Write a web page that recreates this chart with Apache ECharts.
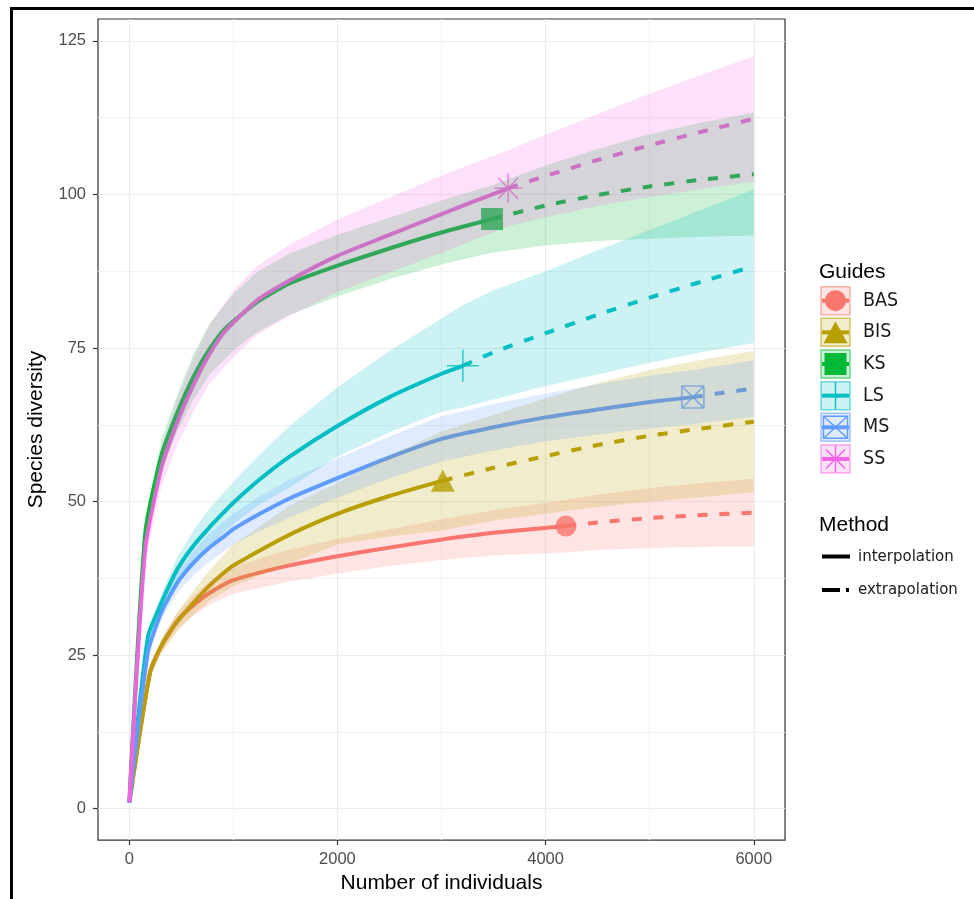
<!DOCTYPE html>
<html><head><meta charset="utf-8">
<script src="https://cdn.jsdelivr.net/npm/echarts@6/dist/echarts.min.js"></script>
<style>html,body{margin:0;padding:0;background:#fff}#c{width:974px;height:899px}</style>
</head><body><div id="c"></div>
<script>
const guides = ['BAS','BIS','KS','LS','MS','SS'];
const colors = ['#F8766D','#B79F00','#00BA38','#00BFC4','#619CFF','#F564E3'];
const xTicks = [0,2000,4000,6000];
const yTicks = [0,25,50,75,100,125];
const xMinor = [1000,3000,5000];
const yMinor = [12.5,37.5,62.5,87.5,112.5];
const methodLabels = ['interpolation','extrapolation'];

// BAS
const basX = [1,200,309,463,617,771,1000,1540,2000,2500,3000,3500,4196];
const basY = [1,22.2,26.5,30.6,33.1,35.1,37.2,39.6,41.1,42.5,43.8,44.9,46.0];
const basExtX = [4196,4500,5000,5500,6000];
const basExtY = [46.0,46.6,47.3,47.8,48.2];
const basBandX = [1,200,309,463,617,771,1000,1540,2000,2500,3000,3500,4196,4500,5000,5500,6000];
const basLo = [1,21.5,25.5,29.3,31.5,33.2,35.0,37.0,38.3,39.5,40.5,41.2,41.7,42.1,42.4,42.6,42.7];
const basHi = [1,22.9,27.5,31.9,34.7,37.0,39.4,42.2,43.9,45.5,47.1,48.6,50.3,51.1,52.2,53.0,53.7];
// BIS
const bisX = [1,200,309,463,617,771,924,1000,1540,2000,2500,3013];
const bisY = [1,22.2,26.5,30.5,33.5,36.3,38.6,39.6,44.6,48.0,50.9,53.4];
const bisExtX = [3013,3500,4000,4500,5000,5500,6000];
const bisExtY = [53.4,55.5,57.4,59.2,60.7,61.9,63.0];
const bisBandX = [1,200,309,463,617,771,1000,1540,2000,2500,3013,3500,4000,4500,5000,5500,6000];
const bisLo = [1,21.4,25.3,28.9,31.5,33.8,36.2,39.9,43.0,44.3,45.3,46.9,48.0,49.1,50.0,50.7,51.5];
const bisHi = [1,23.0,27.7,32.1,35.5,38.8,43.0,49.3,53.0,57.5,61.5,64.1,66.8,69.3,71.4,73.1,74.5];
// KS
const ksX = [1,155,309,463,617,771,924,1232,1540,2000,2500,3000,3485];
const ksY = [1,45.0,57.5,64.5,70.3,74.8,78.2,82.5,85.5,88.4,91.2,93.8,96.0];
const ksExtX = [3485,4000,4500,5000,5500,6000];
const ksExtY = [96.0,98.2,99.9,101.3,102.4,103.3];
const ksBandX = [1,155,309,463,617,771,1000,1232,1540,2000,2500,3000,3485,4000,4500,5000,5500,6000];
const ksLo = [1,43.5,55.0,61.5,66.6,70.7,74.6,77.6,80.4,83.4,86.2,88.6,90.5,91.7,92.4,92.8,93.1,93.3];
const ksHi = [1,46.5,60.0,67.5,74.0,78.9,83.8,87.4,90.4,93.4,96.2,99.0,101.5,104.7,107.4,109.8,111.7,113.3];
// LS
const lsX = [1,180,309,463,617,771,924,1000,1232,1540,2000,2500,3000,3205];
const lsY = [1,28.0,33.5,39.0,42.8,45.8,48.5,49.8,53.3,57.3,62.3,67.0,70.8,72.1];
const lsExtX = [3205,3500,4000,4500,5000,5500,6000];
const lsExtY = [72.1,74.3,77.4,80.4,83.2,85.8,88.3];
const lsBandX = [1,180,309,463,617,771,1000,1232,1540,2000,2500,3000,3205,3500,4000,4500,5000,5500,6000];
const lsLo = [1,27.2,32.0,37.0,40.3,42.9,46.3,49.3,52.3,57.3,61.3,64.6,65.3,66.6,68.8,70.7,72.6,74.3,75.8];
const lsHi = [1,28.8,35.0,41.0,45.3,48.9,53.2,57.3,62.3,68.6,74.5,79.8,82.0,84.4,87.5,90.9,94.2,97.5,100.8];
// MS
const msX = [1,180,309,463,617,771,924,1000,1232,1540,2000,2500,3000,3500,4000,4500,5000,5415];
const msY = [1,25.5,32.0,36.8,40.0,42.5,44.5,45.5,47.8,50.5,53.8,57.2,60.2,62.1,63.7,65.0,66.2,67.0];
const msExtX = [5415,5700,6000];
const msExtY = [67.0,67.7,68.4];
const msBandX = [1,180,309,463,617,771,1000,1232,1540,2000,2500,3000,3500,4000,4500,5000,5415,6000];
const msLo = [1,24.8,30.8,35.2,38.0,40.2,43.0,45.0,47.4,50.6,53.8,56.5,58.3,59.8,60.9,61.9,62.6,63.8];
const msHi = [1,26.2,33.2,38.4,42.0,44.8,48.0,50.6,53.6,57.0,60.6,63.9,65.9,67.6,69.1,70.5,71.4,73.0];
// SS
const ssX = [1,155,309,463,617,771,924,1232,1540,2000,2500,3000,3640];
const ssY = [1,42.5,55.5,63.0,69.0,74.0,77.8,82.8,86.0,90.0,93.4,96.8,101.0];
const ssExtX = [3640,4000,4500,5000,5500,6000];
const ssExtY = [101.0,103.0,105.6,108.0,110.2,112.3];
const ssBandX = [1,155,309,463,617,771,1000,1232,1540,2000,2500,3000,3640,4000,4500,5000,5500,6000];
const ssLo = [1,40.5,52.5,59.2,64.7,69.2,73.5,77.2,80.2,84.1,87.3,90.5,94.8,96.3,98.1,99.6,100.9,102.1];
const ssHi = [1,44.5,58.5,66.8,73.3,78.8,84.3,88.4,91.8,95.9,99.5,103.1,107.2,109.7,113.1,116.4,119.5,122.5];

const table = [
  [basX,basY,basExtX,basExtY,basBandX,basLo,basHi],
  [bisX,bisY,bisExtX,bisExtY,bisBandX,bisLo,bisHi],
  [ksX,ksY,ksExtX,ksExtY,ksBandX,ksLo,ksHi],
  [lsX,lsY,lsExtX,lsExtY,lsBandX,lsLo,lsHi],
  [msX,msY,msExtX,msExtY,msBandX,msLo,msHi],
  [ssX,ssY,ssExtX,ssExtY,ssBandX,ssLo,ssHi]
];

const FONT = '"Liberation Sans", Arial, Helvetica, sans-serif';
const NARROW = '"DejaVu Sans Condensed", "Liberation Sans Narrow", "DejaVu Sans", sans-serif';

function rgba(hex, a){
  const n = parseInt(hex.slice(1),16);
  return 'rgba(' + ((n>>16)&255) + ',' + ((n>>8)&255) + ',' + (n&255) + ',' + a + ')';
}
const zip = (xs, ys) => xs.map((x,k)=>[x, ys[k]]);

const PLUS = 'path://M10,0 L10,20 M0,10 L20,10';
const BOXX = 'path://M0,0 L20,0 L20,20 L0,20 Z M0,0 L20,20 M20,0 L0,20';
const STAR = 'path://M10,0 L10,20 M0,10 L20,10 M2.93,2.93 L17.07,17.07 M17.07,2.93 L2.93,17.07';
const symbols = ['circle','triangle','rect',PLUS,BOXX,STAR];
const symSizes = [21,[24,22],22,32,22,[28,30]];
const filled = [true,true,true,false,false,false];

const series = [];
table.forEach((t,i) => {
  const col = colors[i];
  series.push({
    type:'line', name: guides[i], data: zip(t[0],t[1]), showSymbol:false, symbol:'none',
    smooth:0.2,
    lineStyle:{color:col, width:4, cap:'butt', join:'round'}, z:2, silent:true
  });
  series.push({
    type:'line', name: guides[i] + ' extrapolation', data: zip(t[2],t[3]), showSymbol:false, symbol:'none',
    smooth:0.2,
    lineStyle:{color:col, width:4, type:[10,12], cap:'butt'}, z:2, silent:true
  });
  const n = t[0].length - 1;
  series.push({
    type:'scatter', name: guides[i] + ' observed', data:[[t[0][n], t[1][n]]],
    symbol: symbols[i], symbolSize: symSizes[i],
    itemStyle: filled[i] ? {color: col} : {color:'rgba(0,0,0,0)', borderColor: col, borderWidth: 1.5},
    z:3, silent:true
  });
});
table.forEach((t,i) => {
  const col = colors[i];
  const bx = t[4], lo = t[5], hi = t[6];
  series.push({
    type:'custom', name: guides[i] + ' band', data:[[bx[0], lo[0]]], z:4, silent:true,
    renderItem: (params, api) => {
      const pts = [];
      for (let k=0;k<bx.length;k++) pts.push(api.coord([bx[k], hi[k]]));
      for (let k=bx.length-1;k>=0;k--) pts.push(api.coord([bx[k], lo[k]]));
      return {type:'polygon', shape:{points:pts}, style:{fill: rgba(col,0.2)}};
    }
  });
});

// legend (drawn as graphic)
const elems = [];
elems.push({type:'rect', shape:{x:10,y:7,width:3,height:892}, style:{fill:'#000'}});
elems.push({type:'rect', shape:{x:10,y:7,width:964,height:3}, style:{fill:'#000'}});
const LX = 821, KW = 29, KH = 28, RY0 = 300.7, RSTEP = 31.65;
function seg(x1,y1,x2,y2,col,w){ return {type:'line', shape:{x1:x1,y1:y1,x2:x2,y2:y2}, style:{stroke:col, lineWidth:w}}; }
elems.push({type:'text', x:819, y:272, style:{text:'Guides', fontSize:21, fontFamily:FONT, fill:'#000', verticalAlign:'middle'}});
guides.forEach((g,i) => {
  const col = colors[i];
  const cy = RY0 + i*RSTEP, cx = LX + KW/2;
  elems.push({type:'rect', shape:{x:LX, y:cy-KH/2, width:KW, height:KH}, style:{fill: rgba(col,0.2), stroke: rgba(col,0.55), lineWidth:1.5}});
  elems.push(seg(LX+1, cy, LX+KW-1, cy, col, 4));
  if (i===0) elems.push({type:'circle', shape:{cx:cx, cy:cy, r:10.5}, style:{fill:col}});
  if (i===1) elems.push({type:'polygon', shape:{points:[[cx,cy-11],[cx+12,cy+11],[cx-12,cy+11]]}, style:{fill:col}});
  if (i===2) elems.push({type:'rect', shape:{x:cx-11, y:cy-11, width:22, height:22}, style:{fill:col}});
  if (i===3) {
    elems.push(seg(cx, cy-13.5, cx, cy+13.5, col, 1.4));
    elems.push(seg(cx-14, cy, cx+14, cy, col, 1.4));
  }
  if (i===4) {
    elems.push({type:'rect', shape:{x:cx-12, y:cy-11, width:24, height:22}, style:{fill:'none', stroke:col, lineWidth:1.4}});
    elems.push(seg(cx-12, cy-11, cx+12, cy+11, col, 1.4));
    elems.push(seg(cx+12, cy-11, cx-12, cy+11, col, 1.4));
  }
  if (i===5) {
    elems.push(seg(cx, cy-13.5, cx, cy+13.5, col, 1.4));
    elems.push(seg(cx-13.5, cy, cx+13.5, cy, col, 1.4));
    elems.push(seg(cx-9.5, cy-9.5, cx+9.5, cy+9.5, col, 1.4));
    elems.push(seg(cx+9.5, cy-9.5, cx-9.5, cy+9.5, col, 1.4));
  }
  elems.push({type:'text', x:863, y:cy, style:{text:g, fontSize:19.5, fontFamily:NARROW, fill:'#1a1a1a', verticalAlign:'middle'}});
});
elems.push({type:'text', x:819, y:525, style:{text:'Method', fontSize:21, fontFamily:FONT, fill:'#000', verticalAlign:'middle'}});
elems.push(seg(822, 556.5, 850, 556.5, '#000', 4));
elems.push(seg(822, 590, 840, 590, '#000', 4));
elems.push(seg(846, 590, 849, 590, '#000', 4));
elems.push({type:'text', x:858, y:557, style:{text:methodLabels[0], fontSize:15, fontFamily:'"DejaVu Sans", sans-serif', fill:'#1a1a1a', verticalAlign:'middle'}});
elems.push({type:'text', x:858, y:590, style:{text:methodLabels[1], fontSize:15, fontFamily:'"DejaVu Sans", sans-serif', fill:'#1a1a1a', verticalAlign:'middle'}});

const tickLine = {color:'#333', width:1.2};
const majorGrid = {color:'#EBEBEB', width:1.2};
const minorGrid = {color:'#F2F2F2', width:1};

const option = {
  animation:false,
  backgroundColor:'#fff',
  grid:{left:98, top:19, width:687, height:827, show:true, borderColor:'#333', borderWidth:1.2, backgroundColor:'#fff', containLabel:false},
  xAxis:[{
    type:'value', min:-300, max:6300, position:'bottom',
    name:'Number of individuals', nameLocation:'middle', nameGap:31,
    nameTextStyle:{fontSize:21, color:'#000', fontFamily:FONT},
    axisLine:{show:false, onZero:false},
    axisTick:{show:true, length:5, customValues:xTicks, lineStyle:tickLine},
    axisLabel:{customValues:xTicks, fontSize:16.5, color:'#4D4D4D', margin:11, fontFamily:FONT, formatter: v => String(v)},
    splitLine:{show:true, lineStyle:majorGrid}
  },{
    type:'value', min:-300, max:6300, position:'bottom',
    axisLine:{show:false, onZero:false}, axisTick:{show:false, customValues:xMinor}, axisLabel:{show:false},
    splitLine:{show:true, lineStyle:minorGrid}
  }],
  yAxis:[{
    type:'value', min:-5.12, max:128.56, position:'left',
    name:'Species diversity', nameLocation:'middle', nameGap:51, nameRotate:90,
    nameTextStyle:{fontSize:21, color:'#000', fontFamily:FONT},
    axisLine:{show:false, onZero:false},
    axisTick:{show:true, length:5, customValues:yTicks, lineStyle:tickLine},
    axisLabel:{customValues:yTicks, fontSize:16.5, color:'#4D4D4D', margin:12, fontFamily:FONT, formatter: v => String(v)},
    splitLine:{show:true, lineStyle:majorGrid}
  },{
    type:'value', min:-5.12, max:128.56, position:'left',
    axisLine:{show:false, onZero:false}, axisTick:{show:false, customValues:yMinor}, axisLabel:{show:false},
    splitLine:{show:true, lineStyle:minorGrid}
  }],
  series: series,
  graphic:{elements: elems}
};
const chart = echarts.init(document.getElementById('c'), null, {renderer:'canvas'});
chart.setOption(option);
</script>
</body></html>
